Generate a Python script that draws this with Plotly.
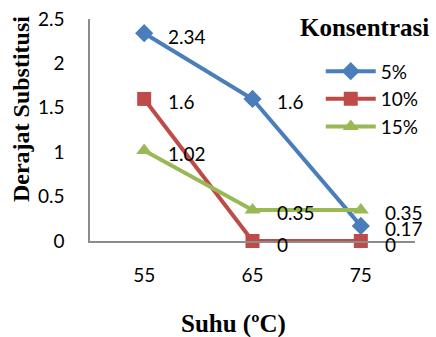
import plotly.graph_objects as go

# Suhu (°C) categories and Derajat Substitusi per concentration
suhu = ["55", "65", "75"]
ds_5 = [2.34, 1.6, 0.17]
ds_10 = [1.6, 0, 0]
ds_15 = [1.02, 0.35, 0.35]
series_names = ["5%", "10%", "15%"]
y_ticks = [0, 0.5, 1, 1.5, 2, 2.5]

colors = ["#4A7EBB", "#BE4B48", "#98B954"]
symbols = ["diamond", "square", "triangle-up"]
sans = "Lato, 'Open Sans', sans-serif"
serif = "'Liberation Serif', 'DejaVu Serif', serif"

fig = go.Figure()
for name, vals, col, sym in zip(series_names, [ds_5, ds_10, ds_15], colors, symbols):
    fig.add_trace(go.Scatter(
        x=suhu, y=vals, name=name, mode="lines+markers",
        line=dict(color=col, width=4),
        marker=dict(symbol=sym, size=14, color=col),
        cliponaxis=False,
    ))
    # value labels, placed by category index
    for i, yv in enumerate(vals):
        fig.add_annotation(
            x=i, y=yv, text=f"{yv:g}", showarrow=False,
            xanchor="left", yanchor="middle", xshift=22, yshift=-3,
            font=dict(family=sans, size=19, color="#000"),
        )

# legend heading
fig.add_annotation(
    xref="paper", yref="paper", x=1.05, y=1.03, xanchor="right", yanchor="top",
    text="<b>Konsentrasi</b>", showarrow=False,
    font=dict(family=serif, size=25, color="#000"),
)
# axis titles
fig.add_annotation(
    xref="paper", yref="paper", x=(236 - 90) / 330, y=-(324 - 241) / 222,
    xanchor="center", yanchor="middle",
    text="<b>Suhu (ºC)</b>", showarrow=False,
    font=dict(family=serif, size=25, color="#000"),
)
fig.add_annotation(
    xref="paper", yref="paper", x=-(90 - 20) / 330, y=(241 - 109) / 222,
    xanchor="center", yanchor="middle", textangle=-90,
    text="<b>Derajat Substitusi</b>", showarrow=False,
    font=dict(family=serif, size=24, color="#000"),
)

fig.update_layout(
    width=436, height=337,
    margin=dict(l=90, r=16, t=19, b=96),
    paper_bgcolor="white", plot_bgcolor="white",
    showlegend=True,
    legend=dict(
        x=0.71, y=0.85, xanchor="left", yanchor="top",
        font=dict(family=sans, size=19, color="#000"),
        bgcolor="rgba(0,0,0,0)", itemwidth=50, tracegroupgap=0,
    ),
    xaxis=dict(
        type="category", range=[-0.5, 2.5], automargin=False,
        showline=True, linecolor="#8C8C8C", linewidth=1.5,
        showgrid=False, ticks="", zeroline=False,
        tickfont=dict(family=sans, size=19, color="#000"),
        ticklabelstandoff=16,
    ),
    yaxis=dict(
        range=[0, 2.5], tickvals=y_ticks, ticktext=[f"{v:g}" for v in y_ticks],
        automargin=False,
        showline=True, linecolor="#8C8C8C", linewidth=1.5,
        showgrid=False, ticks="", zeroline=False,
        tickfont=dict(family=sans, size=19, color="#000"),
        ticklabelstandoff=20,
    ),
)

fig.write_html("out.html")
